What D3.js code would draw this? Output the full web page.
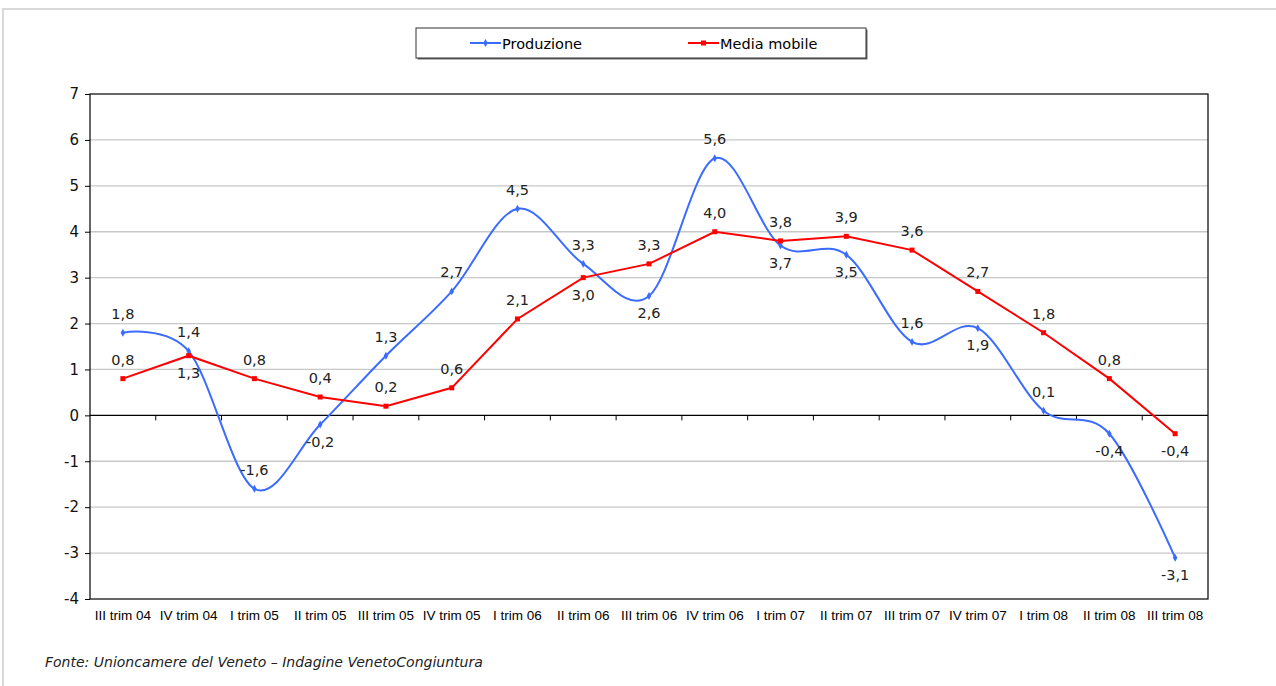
<!DOCTYPE html>
<html><head><meta charset="utf-8">
<script src="https://cdn.jsdelivr.net/npm/d3@7"></script>
<style>
html,body{margin:0;padding:0;background:#fff;}
svg{display:block;}
</style></head>
<body>
<svg id="chart" width="1276" height="686"></svg>
<script>
const categories = ["III trim 04","IV trim 04","I trim 05","II trim 05","III trim 05","IV trim 05","I trim 06","II trim 06","III trim 06","IV trim 06","I trim 07","II trim 07","III trim 07","IV trim 07","I trim 08","II trim 08","III trim 08"];
const produzione = [1.8,1.4,-1.6,-0.2,1.3,2.7,4.5,3.3,2.6,5.6,3.7,3.5,1.6,1.9,0.1,-0.4,-3.1];
const mediaMobile = [0.8,1.3,0.8,0.4,0.2,0.6,2.1,3.0,3.3,4.0,3.8,3.9,3.6,2.7,1.8,0.8,-0.4];
// label placement: 1 = above, -1 = below
const prodLabelPos = [1,1,1,-1,1,1,1,1,-1,1,-1,-1,1,-1,1,-1,-1];
const mediaLabelPos = [1,-1,1,1,1,1,1,-1,1,1,1,1,1,1,1,1,-1];
const yTicks = [-4,-3,-2,-1,0,1,2,3,4,5,6,7];
const seriesNames = ["Produzione","Media mobile"];
const colors = ["#3b6cff","#ff0000"];
const source = "Fonte: Unioncamere del Veneto \u2013 Indagine VenetoCongiuntura";

const svg = d3.select("#chart");
const L = 90, R = 1208, T = 94, B = 599;
const FONT = "DejaVu Sans, Verdana, sans-serif";

// outer light frame
svg.append("rect").attr("x",3).attr("y",9).attr("width",1290).attr("height",700)
  .attr("fill","none").attr("stroke","#d8d8d8").attr("stroke-width",2);

const x = d3.scaleBand().domain(categories).range([L,R]).padding(0);
const cx = d => x(d) + x.bandwidth()/2;
const y = d3.scaleLinear().domain([-4,7]).range([B,T]);

// gridlines
svg.append("g").selectAll("line").data(yTicks.filter(v=>v!==7 && v!==-4 && v!==0)).join("line")
  .attr("x1",L).attr("x2",R).attr("y1",d=>y(d)).attr("y2",d=>y(d))
  .attr("stroke","#c8c8c8").attr("stroke-width",1.3);

// plot frame
svg.append("rect").attr("x",L).attr("y",T).attr("width",R-L).attr("height",B-T)
  .attr("fill","none").attr("stroke","#000").attr("stroke-width",1.2);

// y axis
const yAxis = d3.axisLeft(y).tickValues(yTicks).tickSize(5).tickPadding(6).tickFormat(d3.format("d"));
const gy = svg.append("g").attr("transform",`translate(${L},0)`).call(yAxis);
gy.select(".domain").remove();
gy.selectAll("line").attr("stroke","#000");
gy.selectAll("text").attr("font-family",FONT).attr("font-size",15).attr("fill","#111")
  .text(d => d < 0 ? "-" + Math.abs(d) : d);

// zero line with category boundary ticks
svg.append("line").attr("x1",L).attr("x2",R).attr("y1",y(0)).attr("y2",y(0)).attr("stroke","#000").attr("stroke-width",1.2);
svg.append("g").selectAll("line").data(categories.slice(1)).join("line")
  .attr("x1",d=>x(d)).attr("x2",d=>x(d)).attr("y1",y(0)).attr("y2",y(0)+5).attr("stroke","#000");

// x labels
const xAxis = d3.axisBottom(x).tickSize(0).tickPadding(11);
const gx = svg.append("g").attr("transform",`translate(0,${B})`).call(xAxis);
gx.select(".domain").remove();
gx.selectAll("text").attr("font-family","Liberation Sans, Arial, sans-serif").attr("font-size",13.5).attr("fill","#000");

// lines
const line = d3.line().x((d,i)=>cx(categories[i])).y(d=>y(d));
svg.append("path").datum(produzione).attr("d",line.curve(d3.curveCatmullRom.alpha(0))).attr("fill","none")
  .attr("stroke",colors[0]).attr("stroke-width",2);
svg.append("path").datum(mediaMobile).attr("d",line.curve(d3.curveLinear)).attr("fill","none")
  .attr("stroke",colors[1]).attr("stroke-width",2);

// markers
svg.append("g").selectAll("path").data(produzione).join("path")
  .attr("transform",(d,i)=>`translate(${cx(categories[i])},${y(d)})`)
  .attr("d",d3.symbol(d3.symbolDiamond,18)()).attr("fill",colors[0]);
svg.append("g").selectAll("rect").data(mediaMobile).join("rect")
  .attr("x",(d,i)=>cx(categories[i])-2.5).attr("y",d=>y(d)-2.5).attr("width",5).attr("height",5).attr("fill",colors[1]);

// data labels
const fmt = v => d3.format(".1f")(v).replace(".",",").replace("\u2212","-");
function labels(data,pos){
  svg.append("g").selectAll("text").data(data).join("text")
    .attr("x",(d,i)=>cx(categories[i]))
    .attr("y",(d,i)=>y(d) + (pos[i]>0 ? -14 : 22))
    .attr("text-anchor","middle").attr("font-family",FONT).attr("font-size",14.5)
    .attr("fill","#222").text(d=>fmt(d));
}
labels(produzione,prodLabelPos);
labels(mediaMobile,mediaLabelPos);

// legend
const lg = svg.append("g");
lg.append("rect").attr("x",417.5).attr("y",29.5).attr("width",450).attr("height",30).attr("fill","#666");
lg.append("rect").attr("x",416).attr("y",28).attr("width",450).attr("height",30).attr("fill","#fff").attr("stroke","#333").attr("stroke-width",1);
const legItems = [{x:470},{x:688}];
seriesNames.forEach((n,i)=>{
  const lx = legItems[i].x;
  lg.append("line").attr("x1",lx).attr("x2",lx+31).attr("y1",43).attr("y2",43).attr("stroke",colors[i]).attr("stroke-width",2);
  if(i===0) lg.append("path").attr("transform",`translate(${lx+15.5},43)`).attr("d",d3.symbol(d3.symbolDiamond,18)()).attr("fill",colors[i]);
  else lg.append("rect").attr("x",lx+13).attr("y",40.5).attr("width",5).attr("height",5).attr("fill",colors[i]);
  lg.append("text").attr("x",lx+32).attr("y",48.5).attr("font-family",FONT).attr("font-size",14.5).attr("fill","#000").text(n);
});

// source
svg.append("text").attr("x",45).attr("y",667).attr("font-family",FONT).attr("font-style","italic")
  .attr("font-size",14).attr("fill","#222").text(source);
</script>
</body></html>
